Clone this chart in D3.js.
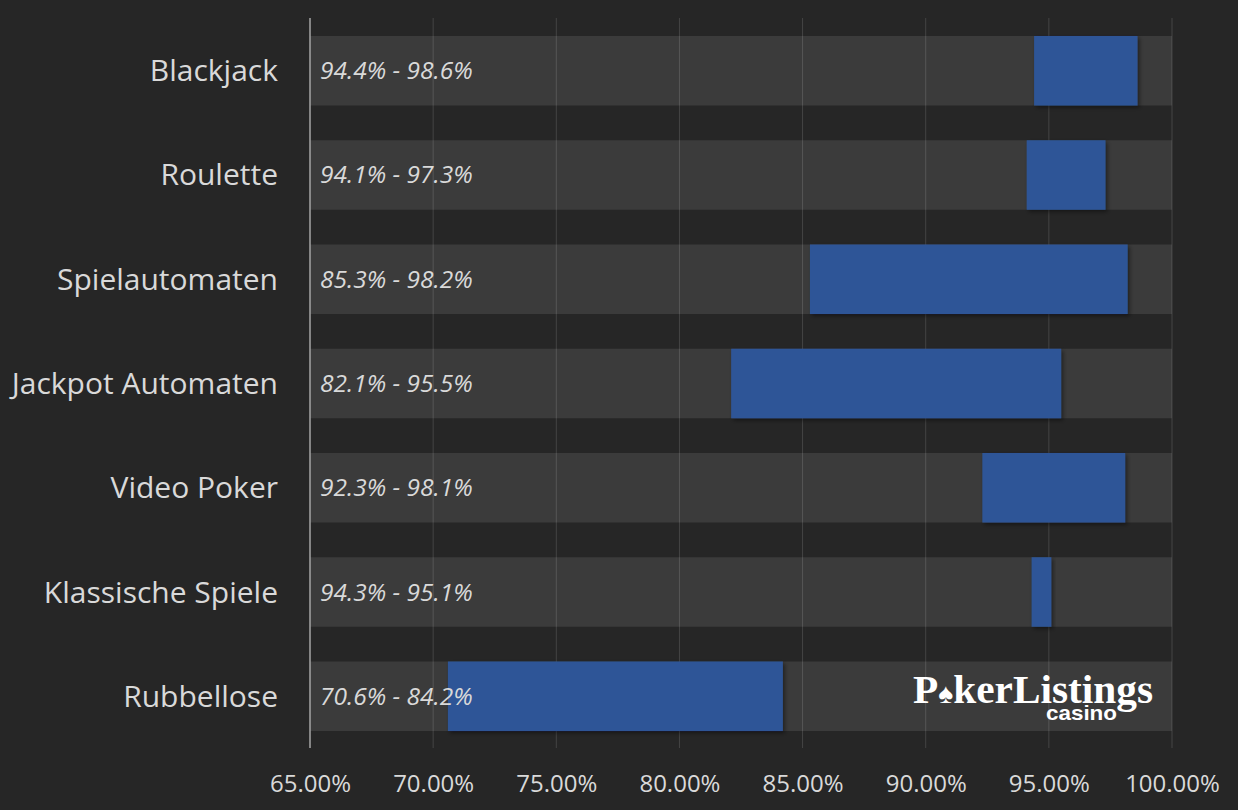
<!DOCTYPE html>
<html>
<head>
<meta charset="utf-8">
<script src="https://cdn.jsdelivr.net/npm/d3@7"></script>
<style>
  html, body { margin: 0; padding: 0; background: #262626; }
  svg { display: block; }
</style>
</head>
<body>
<div id="chart"></div>
<script>
// Auszahlungsquoten nach Spielart (range bars)

const games = ['Blackjack', 'Roulette', 'Spielautomaten', 'Jackpot Automaten', 'Video Poker', 'Klassische Spiele', 'Rubbellose'];
const lowValues = [94.4, 94.1, 85.3, 82.1, 92.3, 94.3, 70.6];
const highValues = [98.6, 97.3, 98.2, 95.5, 98.1, 95.1, 84.2];
const xTicks = [65, 70, 75, 80, 85, 90, 95, 100];

const W = 1238, H = 810;
const left = 310, right = 1172;
const font = '"Open Sans", "Noto Sans", sans-serif';

const svg = d3.select('#chart').append('svg')
	.attr('width', W)
	.attr('height', H);

const defs = svg.append('defs');
const shadow = defs.append('filter')
	.attr('id', 'shadow')
	.attr('x', '-10%').attr('y', '-10%')
	.attr('width', '130%').attr('height', '130%');
shadow.append('feDropShadow')
	.attr('dx', 2).attr('dy', 2)
	.attr('stdDeviation', 2)
	.attr('flood-color', '#000')
	.attr('flood-opacity', 0.45);

const x = d3.scaleLinear()
	.domain([65, 100])
	.range([left, right]);

const y = d3.scaleBand()
	.domain(games)
	.range([18.6, 748.4])
	.paddingInner(0.333)
	.paddingOuter(0.1667);

const data = games.map((g, i) => ({game: g, low: lowValues[i], high: highValues[i]}));

// background bands (full range)
svg.append('g')
	.selectAll('rect')
	.data(data)
	.join('rect')
	.attr('x', x(65))
	.attr('y', d => y(d.game))
	.attr('width', x(100) - x(65))
	.attr('height', y.bandwidth())
	.attr('fill', '#3b3b3b');

// gridlines
svg.append('g')
	.selectAll('line')
	.data(xTicks.slice(1))
	.join('line')
	.attr('x1', d => x(d)).attr('x2', d => x(d))
	.attr('y1', 18).attr('y2', 748)
	.attr('stroke', '#ffffff')
	.attr('stroke-opacity', 0.14)
	.attr('stroke-width', 1);

// range bars
svg.append('g')
	.selectAll('rect')
	.data(data)
	.join('rect')
	.attr('x', d => x(d.low))
	.attr('y', d => y(d.game))
	.attr('width', d => x(d.high) - x(d.low))
	.attr('height', y.bandwidth())
	.attr('fill', '#2e5597')
	.attr('filter', 'url(#shadow)');

// y axis line
svg.append('line')
	.attr('x1', left).attr('x2', left)
	.attr('y1', 18).attr('y2', 748)
	.attr('stroke', '#a6a6a6')
	.attr('stroke-width', 1.5);

// x axis labels
const xAxis = svg.append('g')
	.attr('transform', `translate(0,748)`)
	.call(d3.axisBottom(x).tickValues(xTicks).tickSize(0).tickPadding(0).tickFormat(d => d.toFixed(2) + '%'));
xAxis.select('.domain').remove();
xAxis.selectAll('text')
	.attr('y', 0)
	.attr('dy', 0)
	.attr('transform', 'translate(0,44)')
	.attr('fill', '#d9d9d9')
	.style('font-family', font)
	.style('font-size', '24px');

// category labels
svg.append('g')
	.selectAll('text')
	.data(data)
	.join('text')
	.attr('x', 278)
	.attr('y', d => y(d.game) + y.bandwidth() / 2 + 10.5)
	.attr('text-anchor', 'end')
	.attr('fill', '#d9d9d9')
	.style('font-family', font)
	.style('font-size', '30px')
	.text(d => d.game);

// range labels
svg.append('g')
	.selectAll('text')
	.data(data)
	.join('text')
	.attr('x', 320)
	.attr('y', d => y(d.game) + y.bandwidth() / 2 + 8.5)
	.attr('fill', '#d9d9d9')
	.style('font-family', font)
	.style('font-style', 'italic')
	.style('font-size', '24.5px')
	.text(d => `${d.low.toFixed(1)}% - ${d.high.toFixed(1)}%`);

// logo
const logo = svg.append('g');
const brand = logo.append('text')
	.attr('x', 913)
	.attr('y', 703)
	.attr('fill', '#ffffff')
	.style('font-family', '"Liberation Serif", "DejaVu Serif", serif')
	.style('font-weight', 'bold')
	.style('font-size', '41px')
	.attr('textLength', 240)
	.attr('lengthAdjust', 'spacingAndGlyphs');
brand.append('tspan').text('P');
brand.append('tspan').style('font-size', '28px').text('\u2660');
brand.append('tspan').text('kerListings');
logo.append('text')
	.attr('x', 1117)
	.attr('y', 720)
	.attr('text-anchor', 'end')
	.attr('fill', '#ffffff')
	.style('font-family', '"Liberation Sans", Arial, sans-serif')
	.style('font-weight', 'bold')
	.style('font-size', '21px')
	.attr('textLength', 71)
	.attr('lengthAdjust', 'spacingAndGlyphs')
	.text('casino');
</script>
</body>
</html>
